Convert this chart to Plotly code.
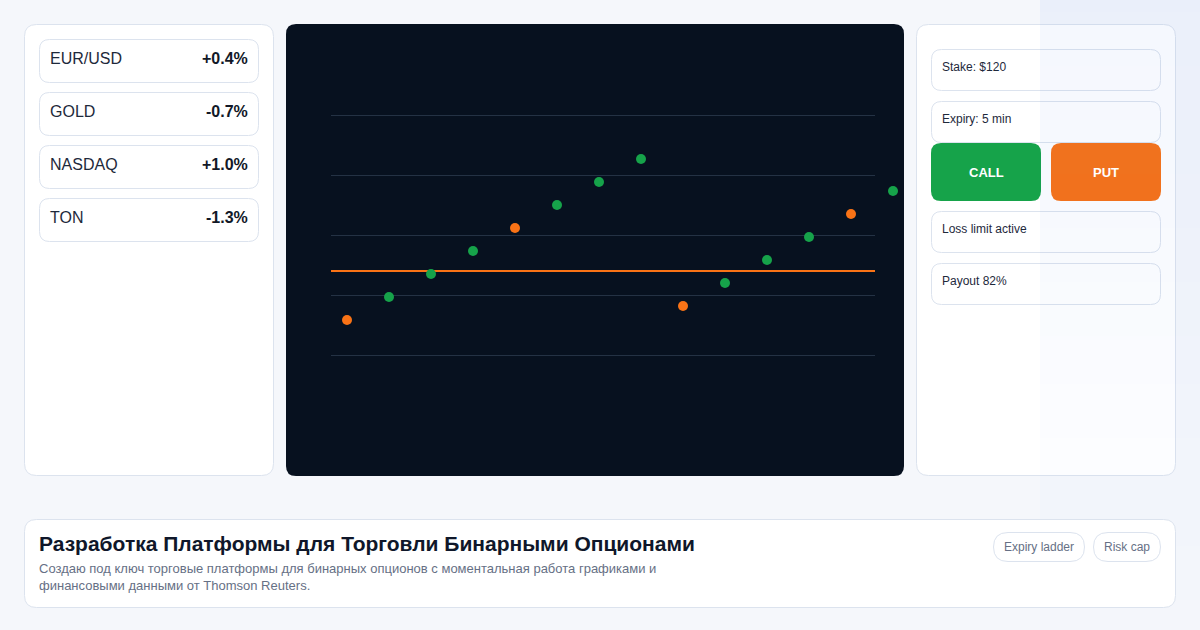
#!/usr/bin/env python3
# -*- coding: utf-8 -*-
"""Binary options platform mockup: ticker list, dark price panel, order controls."""

import plotly.graph_objects as go

WIDTH = 1200
HEIGHT = 630

# ticker list
tickers = ["EUR/USD", "GOLD", "NASDAQ", "TON"]
ticker_changes = ["+0.4%", "-0.7%", "+1.0%", "-1.3%"]

# price panel
point_index = list(range(14))
point_values = [95, 118, 141, 164, 187, 210, 233, 256, 109, 132, 155, 178, 201, 224]
point_kinds = ["put", "call", "call", "call", "put", "call", "call", "call",
               "put", "call", "call", "call", "put", "call"]
grid_levels = [59.5, 119.5, 179.5, 239.5, 299.5]
strike_level = 144

# order panel
order_fields_top = ["Stake: $120", "Expiry: 5 min"]
order_fields_bottom = ["Loss limit active", "Payout 82%"]
button_labels = ["CALL", "PUT"]

# footer
footer_title = "Разработка Платформы для Торговли Бинарными Опционами"
footer_lines = [
    "Создаю под ключ торговые платформы для бинарных опционов с моментальная работа графиками и",
    "финансовыми данными от Thomson Reuters.",
]
footer_tags = ["Expiry ladder", "Risk cap"]

BORDER = "#dce3ee"
INK = "#111827"
SOFT_INK = "#1e293b"
MUTED = "#667085"
FONT = "Liberation Sans"
GREEN = "#16a34a"
ORANGE = "#f97316"


def px(x):
    return x / WIDTH


def py(y):
    return 1 - y / HEIGHT


def round_rect(x0, y0, x1, y1, r, fill, line=None):
    """Rounded rectangle given in page pixels."""
    points = [
        f"M{px(x0 + r)},{py(y0)}", f"L{px(x1 - r)},{py(y0)}",
        f"Q{px(x1)},{py(y0)} {px(x1)},{py(y0 + r)}", f"L{px(x1)},{py(y1 - r)}",
        f"Q{px(x1)},{py(y1)} {px(x1 - r)},{py(y1)}", f"L{px(x0 + r)},{py(y1)}",
        f"Q{px(x0)},{py(y1)} {px(x0)},{py(y1 - r)}", f"L{px(x0)},{py(y0 + r)}",
        f"Q{px(x0)},{py(y0)} {px(x0 + r)},{py(y0)}", "Z",
    ]
    return dict(
        type="path", xref="paper", yref="paper", layer="below",
        path=" ".join(points), fillcolor=fill,
        line=dict(color=line or fill, width=1 if line else 0),
    )


def label(x, y, text, size, color=INK, bold=False, anchor="left"):
    fig.add_annotation(
        x=px(x), y=py(y), xref="paper", yref="paper", text=f"<b>{text}</b>" if bold else text,
        showarrow=False, xanchor=anchor, yanchor="middle", align=anchor,
        font=dict(family=FONT, size=size, color=color), borderpad=0, borderwidth=0,
    )


fig = go.Figure()
shapes = []

# cards, back to front
shapes.append(round_rect(24.5, 24.5, 273.5, 475.5, 12, "#ffffff", BORDER))
shapes.append(round_rect(286, 24, 904, 476, 10, "#07111f"))
shapes.append(round_rect(916.5, 24.5, 1175.5, 475.5, 12, "#ffffff", BORDER))

for i, name in enumerate(tickers):
    top = 39 + 53 * i
    shapes.append(round_rect(39.5, top + 0.5, 258.5, top + 43.5, 10, "#ffffff", BORDER))
    label(50, top + 19.5, name, 16, color=SOFT_INK)
    label(248, top + 19.5, ticker_changes[i], 16, bold=True, anchor="right")

for i, name in enumerate(order_fields_top):
    top = 49 + 52 * i
    shapes.append(round_rect(931.5, top + 0.5, 1160.5, top + 41.5, 10, "#ffffff", BORDER))
    label(942, top + 18, name, 12, color=SOFT_INK)

for i, name in enumerate(order_fields_bottom):
    top = 211 + 52 * i
    shapes.append(round_rect(931.5, top + 0.5, 1160.5, top + 41.5, 10, "#ffffff", BORDER))
    label(942, top + 18, name, 12, color=SOFT_INK)

for i, name in enumerate(button_labels):
    left = 931 + 120 * i
    shapes.append(round_rect(left, 143, left + 110, 201, 10, [GREEN, ORANGE][i]))
    label(left + 55, 172.5, name, 13, color="#ffffff", bold=True, anchor="center")

# blue wash in the top right corner, sits over the order card
for y in range(0, 630, 6):
    shapes.append(dict(
        type="rect", xref="paper", yref="paper", layer="below",
        x0=px(1040), x1=1, y0=py(y + 6), y1=py(y),
        fillcolor="rgb(37,99,235)", opacity=0.05 * (1 - (y + 3) / 680), line=dict(width=0),
    ))

# footer card
shapes.append(round_rect(24.5, 519.5, 1175.5, 607.5, 12, "#ffffff", BORDER))
label(39, 543.5, footer_title, 21, color="#0f172a", bold=True)
label(39, 568, footer_lines[0], 13, color=MUTED)
label(39, 585.5, footer_lines[1], 13, color=MUTED)

for text, left, right in zip(footer_tags, [993, 1093], [1085, 1161]):
    shapes.append(round_rect(left + 0.5, 532.5, right - 0.5, 561.5, 14.5, "#ffffff", BORDER))
    label((left + right) / 2, 547, text, 12, color=MUTED, anchor="center")

# price panel grid and strike line
for level in grid_levels:
    shapes.append(dict(
        type="line", xref="paper", yref="y", layer="below",
        x0=px(331), x1=px(875), y0=level, y1=level,
        line=dict(color="#243244", width=1),
    ))
shapes.append(dict(
    type="line", xref="paper", yref="y", layer="below",
    x0=px(331), x1=px(875), y0=strike_level, y1=strike_level,
    line=dict(color=ORANGE, width=2),
))

fig.add_trace(go.Scatter(
    x=point_index,
    y=point_values,
    mode="markers",
    marker=dict(size=10, color=[ORANGE if k == "put" else GREEN for k in point_kinds], line=dict(width=0)),
    showlegend=False,
    hoverinfo="skip",
))

fig.update_layout(
    width=WIDTH,
    height=HEIGHT,
    margin=dict(l=0, r=0, t=0, b=0),
    paper_bgcolor="#f5f7fb",
    plot_bgcolor="rgba(0,0,0,0)",
    shapes=shapes,
    showlegend=False,
    xaxis=dict(domain=[px(286), px(904)], range=[(286 - 347) / 42, (904 - 347) / 42], visible=False),
    yaxis=dict(domain=[py(476), py(24)], range=[-61, 391], visible=False),
)

fig.write_html(
    "out.html",
    config=dict(displayModeBar=False),
    post_script="document.body.style.margin='0';document.body.style.overflow='hidden';",
)
